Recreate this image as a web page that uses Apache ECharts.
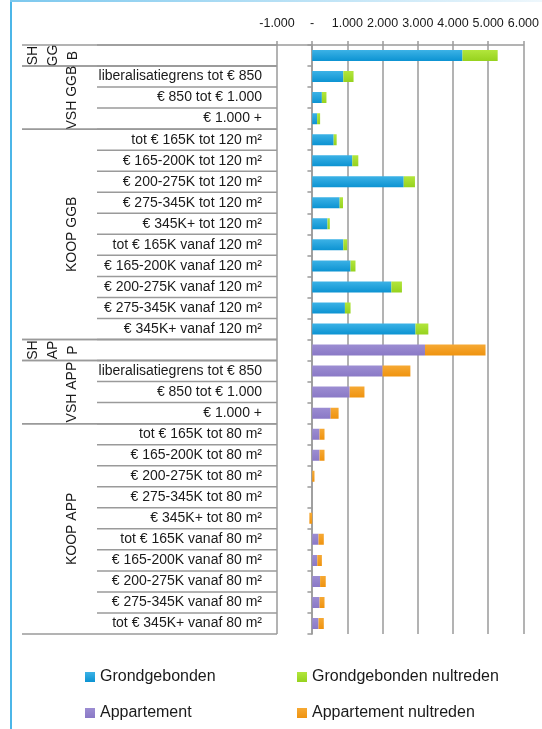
<!DOCTYPE html>
<html><head><meta charset="utf-8">
<script src="https://cdn.jsdelivr.net/npm/echarts@6/dist/echarts.min.js"></script>
<style>html,body{margin:0;padding:0;background:#fff;}#c{width:542px;height:729px;}</style>
</head><body><div id="c"></div>
<script>
// ---- data ----
const categories = [
  'SH GGB', 'VSH GGB|liberalisatiegrens tot € 850', 'VSH GGB|€ 850 tot € 1.000', 'VSH GGB|€ 1.000 +',
  'KOOP GGB|tot € 165K tot 120 m²', 'KOOP GGB|€ 165-200K tot 120 m²', 'KOOP GGB|€ 200-275K tot 120 m²', 'KOOP GGB|€ 275-345K tot 120 m²', 'KOOP GGB|€ 345K+ tot 120 m²',
  'KOOP GGB|tot € 165K vanaf 120 m²', 'KOOP GGB|€ 165-200K vanaf 120 m²', 'KOOP GGB|€ 200-275K vanaf 120 m²', 'KOOP GGB|€ 275-345K vanaf 120 m²', 'KOOP GGB|€ 345K+ vanaf 120 m²',
  'SH APP', 'VSH APP|liberalisatiegrens tot € 850', 'VSH APP|€ 850 tot € 1.000', 'VSH APP|€ 1.000 +',
  'KOOP APP|tot € 165K tot 80 m²', 'KOOP APP|€ 165-200K tot 80 m²', 'KOOP APP|€ 200-275K tot 80 m²', 'KOOP APP|€ 275-345K tot 80 m²', 'KOOP APP|€ 345K+ tot 80 m²',
  'KOOP APP|tot € 165K vanaf 80 m²', 'KOOP APP|€ 165-200K vanaf 80 m²', 'KOOP APP|€ 200-275K vanaf 80 m²', 'KOOP APP|€ 275-345K vanaf 80 m²', 'KOOP APP|tot € 345K+ vanaf 80 m²'
];
const groups = [
  { name: 'SH\nGG\nB', start: 0, count: 1 },
  { name: 'VSH GGB', start: 1, count: 3 },
  { name: 'KOOP GGB', start: 4, count: 10 },
  { name: 'SH\nAP\nP', start: 14, count: 1 },
  { name: 'VSH APP', start: 15, count: 3 },
  { name: 'KOOP APP', start: 18, count: 10 }
];
const grondgebonden = [4270, 885, 275, 140, 610, 1140, 2600, 780, 435, 885, 1090, 2250, 930, 2935,
  null, null, null, null, null, null, null, null, null, null, null, null, null, null];
const grondgebondenNultreden = [1000, 290, 130, 85, 85, 170, 320, 95, 65, 110, 140, 300, 160, 365,
  null, null, null, null, null, null, null, null, null, null, null, null, null, null];
const appartement = [null, null, null, null, null, null, null, null, null, null, null, null, null, null,
  3205, 2000, 1065, 525, 210, 210, 0, 0, 0, 180, 145, 225, 210, 180];
const appartementNultreden = [null, null, null, null, null, null, null, null, null, null, null, null, null, null,
  1720, 790, 420, 225, 140, 140, 65, 0, -80, 150, 130, 160, 140, 150];
const seriesNames = ['Grondgebonden', 'Grondgebonden nultreden', 'Appartement', 'Appartement nultreden'];
const xTicks = { min: -1000, max: 6000, step: 1000 };

// ---- chart ----
const FONT = '"Liberation Sans", Arial, sans-serif';
const TXT = '#1a1a1a';
const GRID = '#9a9a9a';
const chart = echarts.init(document.getElementById('c'), null, { renderer: 'canvas' });
function grad(a, b) {
  return new echarts.graphic.LinearGradient(0, 0, 0, 1, [{ offset: 0, color: a }, { offset: 1, color: b }]);
}
const colors = [
  grad('#3cb2e6', '#0c93d2'),
  grad('#b2e63c', '#96d21e'),
  grad('#9c8dd2', '#8a79c6'),
  grad('#f6a934', '#ef930f')
];
function fmt(v) {
  if (v === 0) return '-';
  const s = Math.abs(v).toString().replace(/\B(?=(\d{3})+(?!\d))/g, '.');
  return (v < 0 ? '-' : '') + s;
}
function leaf(c) { const k = c.indexOf('|'); return k < 0 ? '' : c.slice(k + 1); }
const seriesData = [grondgebonden, grondgebondenNultreden, appartement, appartementNultreden];
const gridLeft = 277, gridRight = 17, gridTop = 45, gridBottom = 95;
const zeroOffset = -(0 - xTicks.min) / (xTicks.max - xTicks.min) * (542 - gridLeft - gridRight);
const legendPos = [[85, 669], [297, 669], [85, 705], [297, 705]];
const option = {
  animation: false,
  textStyle: { fontFamily: FONT },
  grid: { left: gridLeft, right: gridRight, top: gridTop, bottom: gridBottom, containLabel: false },
  xAxis: {
    type: 'value', position: 'top', min: xTicks.min, max: xTicks.max, interval: xTicks.step,
    axisLine: { show: true, lineStyle: { color: GRID, width: 1.5 } },
    axisTick: { show: true, length: 4, lineStyle: { color: GRID, width: 1.5 } },
    axisLabel: { formatter: fmt, color: TXT, fontSize: 12.5, fontFamily: FONT, margin: 15,
      showMinLabel: true, showMaxLabel: true, hideOverlap: false },
    splitLine: { show: true, lineStyle: { color: GRID, width: 1.5 } }
  },
  yAxis: [
    {
      type: 'category', inverse: true, data: categories, position: 'left',
      axisLine: { show: true, lineStyle: { color: GRID, width: 1.5 } },
      axisTick: { show: false },
      axisLabel: { color: TXT, fontSize: 14, fontFamily: FONT, margin: 15, formatter: leaf }
    },
    {
      type: 'category', inverse: true, data: categories, position: 'left', offset: zeroOffset,
      axisLine: { show: false },
      axisTick: { show: true, length: 5, lineStyle: { color: GRID, width: 1.5 } },
      axisLabel: { show: false }
    }
  ],
  legend: seriesNames.map((n, i) => ({
    data: [n], left: legendPos[i][0], top: legendPos[i][1], padding: 0,
    icon: 'rect', itemWidth: 10, itemHeight: 10,
    textStyle: { color: TXT, fontSize: 16, fontFamily: FONT }
  })),
  series: seriesNames.map((n, i) => ({
    name: n, type: 'bar', stack: 'tot', data: seriesData[i], barWidth: 11,
    itemStyle: { color: colors[i] }, silent: true
  }))
};
chart.setOption(option);

// separators and group labels (positions from the category axis scale)
function bandY(i) { return chart.convertToPixel({ yAxisIndex: 0 }, i); }
const step = bandY(1) - bandY(0);
const axisX = chart.convertToPixel({ xAxisIndex: 0 }, xTicks.min);
const els = [];
function hline(x1, y, x2) {
  els.push({ type: 'line', shape: { x1: x1, y1: y, x2: x2, y2: y }, style: { stroke: GRID, lineWidth: 1.5 }, silent: true, z: 10 });
}
categories.forEach((c, i) => { hline(97, bandY(i) - step / 2, axisX); });
groups.forEach(g => {
  const top = bandY(g.start) - step / 2;
  const bot = bandY(g.start + g.count - 1) + step / 2;
  hline(22, top, axisX);
  hline(22, bot, axisX);
  const single = g.count === 1;
  els.push({
    type: 'text', x: single ? 53 : 72, y: (top + bot) / 2, rotation: Math.PI / 2, silent: true, z: 10,
    style: { text: g.name, fill: TXT, font: '14px ' + FONT, align: 'center', verticalAlign: 'middle', lineHeight: 20 }
  });
});
// frame decoration
els.push({ type: 'rect', shape: { x: 10, y: 0, width: 2, height: 729 }, style: { fill: '#4cb6e8' }, silent: true });
els.push({
  type: 'rect', shape: { x: 10, y: 0, width: 532, height: 2 }, silent: true,
  style: { fill: new echarts.graphic.LinearGradient(0, 0, 1, 0, [{ offset: 0, color: '#7cc8ee' }, { offset: 1, color: '#eef7fc' }]) }
});
chart.setOption({ graphic: { elements: els } });
</script>
</body></html>
